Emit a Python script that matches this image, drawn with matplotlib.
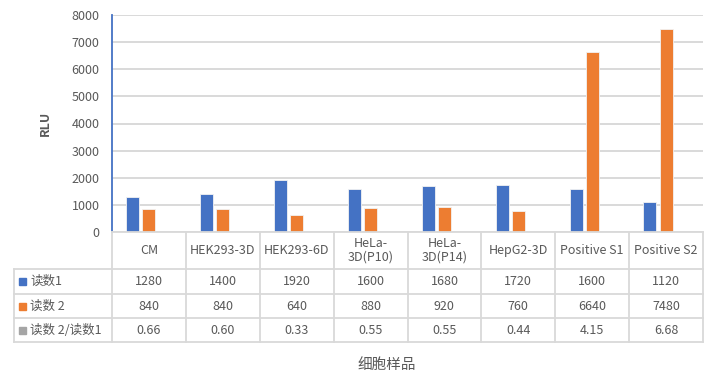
import matplotlib
matplotlib.use("Agg")
import matplotlib.pyplot as plt
import numpy as np

plt.rcParams['font.family'] = ['Noto Sans CJK SC', 'DejaVu Sans']

# data
samples = ['CM', 'HEK293-3D', 'HEK293-6D', 'HeLa-\n3D(P10)', 'HeLa-\n3D(P14)',
           'HepG2-3D', 'Positive S1', 'Positive S2']
read1 = [1280, 1400, 1920, 1600, 1680, 1720, 1600, 1120]
read2 = [840, 840, 640, 880, 920, 760, 6640, 7480]
ratio = [0.66, 0.60, 0.33, 0.55, 0.55, 0.44, 4.15, 6.68]
series_names = ['读数1', '读数 2', '读数 2/读数1']
colors = ['#4472C4', '#ED7D31', '#A5A5A5']
yticks = [0, 1000, 2000, 3000, 4000, 5000, 6000, 7000, 8000]

W, H = 711, 381
txt = '#595959'
grid = '#D9D9D9'

fig = plt.figure(figsize=(W / 100, H / 100), dpi=100)

# plot area in pixels
x0, x1, ytop, ybot = 112, 703, 15, 232
ax = fig.add_axes([x0 / W, 1 - ybot / H, (x1 - x0) / W, (ybot - ytop) / H])
ax.set_facecolor('none')

n = len(samples)
x = np.arange(n)
bw = 0.175
step = 0.218
for i, vals in enumerate([read1, read2, ratio]):
    ax.bar(x + (i - 1) * step, vals, width=bw, color=colors[i],
           edgecolor='#F2F2F2', linewidth=0.6, zorder=3)

ax.set_xlim(-0.5, n - 0.5)
ax.set_ylim(0, 8000)
ax.set_yticks(yticks)
ax.set_xticks([])
ax.grid(axis='y', color=grid, linewidth=1.4, zorder=0)
ax.tick_params(axis='y', length=0, pad=9, labelsize=9, labelcolor=txt)
for s in ['top', 'right', 'bottom']:
    ax.spines[s].set_visible(False)
ax.spines['left'].set_color('#4472C4')
ax.spines['left'].set_linewidth(1.3)
ax.set_ylabel('RLU', fontsize=9, fontweight='bold', color=txt, labelpad=14)

# data table drawn under the plot, pixel coordinates
tb = fig.add_axes([0, 0, 1, 1])
tb.set_xlim(0, W)
tb.set_ylim(H, 0)
tb.axis('off')
tb.patch.set_alpha(0)

xl = 14
colw = (x1 - x0) / n
rows_y = [232, 269, 294, 318, 342]
lc = dict(color=grid, linewidth=1.3)

tb.plot([x0, x1], [rows_y[0]] * 2, **lc)
for yy in rows_y[1:]:
    tb.plot([xl, x1], [yy, yy], **lc)
for j in range(n + 1):
    xx = x0 + j * colw
    tb.plot([xx, xx], [rows_y[0], rows_y[-1]], **lc)
tb.plot([xl, xl], [rows_y[1], rows_y[-1]], **lc)

fs = 9
for j, name in enumerate(samples):
    cx = x0 + (j + 0.5) * colw
    tb.text(cx, (rows_y[0] + rows_y[1]) / 2, name, ha='center', va='center',
            fontsize=fs, color=txt, fontweight='medium', linespacing=1.1)

table_rows = [[str(v) for v in read1], [str(v) for v in read2],
              ['%.2f' % v for v in ratio]]
for r in range(3):
    cy = (rows_y[r + 1] + rows_y[r + 2]) / 2
    tb.add_patch(plt.Rectangle((19, cy - 3.5), 7, 7, color=colors[r]))
    tb.text(30, cy, series_names[r], ha='left', va='center',
            fontsize=fs, color=txt, fontweight='medium')
    for j in range(n):
        cx = x0 + (j + 0.5) * colw
        tb.text(cx, cy, table_rows[r][j], ha='center', va='center',
                fontsize=fs, color=txt, fontweight='medium')

tb.text(387, 365, '细胞样品', ha='center', va='center', fontsize=10.5,
        color=txt)

fig.savefig('out.png', dpi=100)
